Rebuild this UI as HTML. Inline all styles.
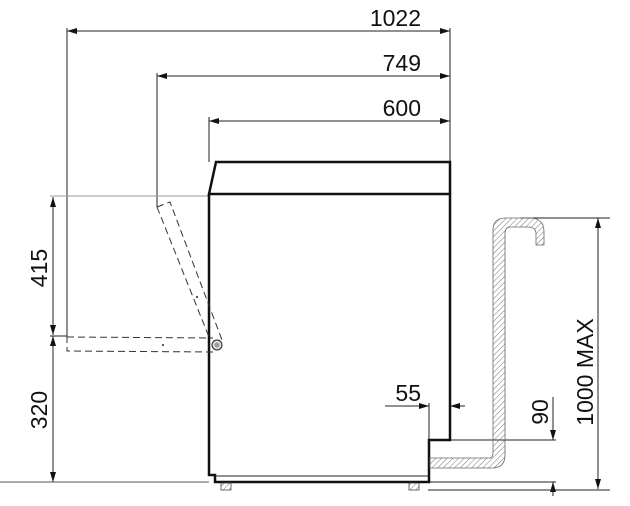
<!DOCTYPE html>
<html><head><style>body{margin:0;background:#fff}svg{display:block}text{font-family:"Liberation Sans",sans-serif;fill:#111}</style></head><body>
<svg width="630" height="506" viewBox="0 0 630 506" xmlns="http://www.w3.org/2000/svg">
<defs>
<marker id="a" viewBox="0 0 10 6" refX="10" refY="3" markerWidth="10" markerHeight="6" orient="auto-start-reverse" markerUnits="userSpaceOnUse"><path d="M0,0L10,3L0,6z" fill="#111"/></marker>
<pattern id="h" width="4" height="4" patternUnits="userSpaceOnUse" patternTransform="rotate(45)"><line x1="0" y1="0" x2="0" y2="4" stroke="#777" stroke-width="1"/></pattern>
</defs>
<g stroke="#222" stroke-width="1" fill="none">
<line x1="67" y1="31" x2="450" y2="31" marker-start="url(#a)" marker-end="url(#a)"/>
<line x1="157" y1="76" x2="450" y2="76" marker-start="url(#a)" marker-end="url(#a)"/>
<line x1="209" y1="121" x2="450" y2="121" marker-start="url(#a)" marker-end="url(#a)"/>
<line x1="67" y1="28" x2="67" y2="336"/>
<line x1="157" y1="73" x2="157" y2="207"/>
<line x1="209" y1="117" x2="209" y2="162"/>
<line x1="450" y1="28" x2="450" y2="162"/>
<line x1="53" y1="197" x2="53" y2="335" marker-start="url(#a)" marker-end="url(#a)"/>
<line x1="53" y1="336" x2="53" y2="482" marker-start="url(#a)" marker-end="url(#a)"/>
<line x1="50" y1="196" x2="209" y2="196" stroke="#999"/>
<line x1="50" y1="336" x2="67" y2="336"/>
<line x1="0" y1="482" x2="209" y2="482" stroke="#555"/>
<line x1="385" y1="406" x2="429" y2="406" marker-end="url(#a)"/>
<line x1="465" y1="406" x2="450" y2="406" marker-end="url(#a)"/>
<line x1="429" y1="403" x2="429" y2="440"/>
<line x1="553" y1="397" x2="553" y2="440" marker-end="url(#a)"/>
<line x1="553" y1="496" x2="553" y2="482" marker-end="url(#a)"/>
<line x1="450" y1="440" x2="556" y2="440"/>
<line x1="429" y1="482" x2="556" y2="482"/>
<line x1="428" y1="490" x2="610" y2="490"/>
<line x1="598" y1="218" x2="598" y2="489" marker-start="url(#a)" marker-end="url(#a)"/>
<line x1="520" y1="218" x2="610" y2="218"/>
</g>
<g stroke="#111" stroke-width="2.5" fill="none">
<path d="M216,162 L450,162 L450,194 L209,194 Z"/>
<path d="M209,194 L209,475 L215,475 L215,482 L429,482 L429,440 L450,440 L450,194"/>
</g>
<line x1="215" y1="476" x2="428" y2="476" stroke="#222" stroke-width="1"/>
<g fill="url(#h)" stroke="#444" stroke-width="0.8">
<rect x="221" y="483" width="10" height="7"/><rect x="409" y="483" width="10" height="7"/>
</g>
<path d="M430,458 L490,458 Q493,458 493,452 L493,230 Q493,218 506,218 L530,218 Q544,218 544,232 L544,245 L536,245 L536,234 Q536,227 528,227 L510,227 Q505,227 505,234 L505,455 Q505,468 492,468 L430,468 Z" fill="url(#h)" stroke="#666" stroke-width="0.8"/>
<g stroke="#333" stroke-width="1" fill="none" stroke-dasharray="7,4">
<path d="M67,336 L67,351 L213,352 M67,337 L213,338"/>
<path d="M157,207 L170,202 L222,340 M157,207 L209,337"/>
</g>
<circle cx="217" cy="345" r="5" fill="#ddd" stroke="#222"/>
<circle cx="217" cy="345" r="2.5" fill="#999"/>
<circle cx="197" cy="297" r="1" fill="#222"/><circle cx="163" cy="345" r="1" fill="#222"/>
<g font-size="23">
<text x="421" y="26" text-anchor="end">1022</text>
<text x="421" y="71" text-anchor="end">749</text>
<text x="421" y="116" text-anchor="end">600</text>
<text x="421" y="401" text-anchor="end">55</text>
<text transform="translate(47,268) rotate(-90)" text-anchor="middle">415</text>
<text transform="translate(47,410) rotate(-90)" text-anchor="middle">320</text>
<text transform="translate(548,412) rotate(-90)" text-anchor="middle">90</text>
<text transform="translate(593,372) rotate(-90)" text-anchor="middle">1000 MAX</text>
</g>
</svg>
</body></html>
